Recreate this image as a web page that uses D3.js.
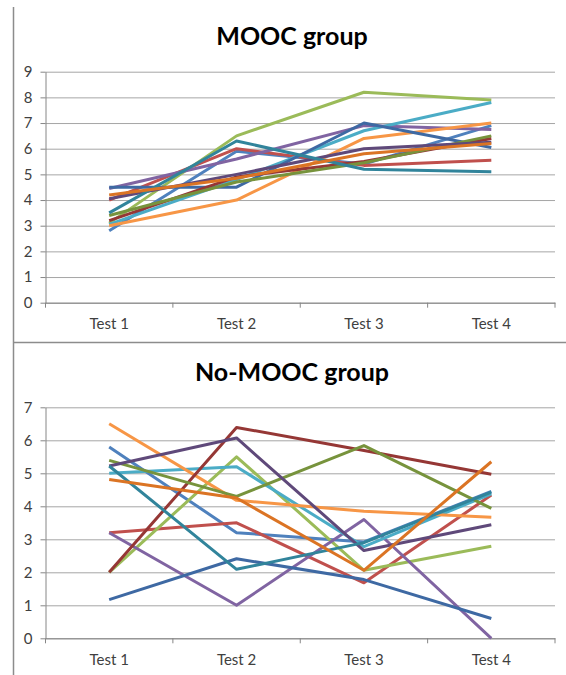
<!DOCTYPE html>
<html>
<head>
<meta charset="utf-8">
<script src="https://cdn.jsdelivr.net/npm/d3@7"></script>
<style>
  html, body { margin: 0; padding: 0; background: #ffffff; }
  svg { display: block; }
</style>
</head>
<body>
<svg id="chart" width="566" height="675"></svg>
<script>
// ---------------- data ----------------
const categories = ["Test 1", "Test 2", "Test 3", "Test 4"];
const moocTicks = [0, 1, 2, 3, 4, 5, 6, 7, 8, 9];
const noMoocTicks = [0, 1, 2, 3, 4, 5, 6, 7];
const moocTitle = "MOOC group";
const noMoocTitle = "No-MOOC group";

// one row per student (series), values for Test 1..4
const moocScores = [
  [2.8, 5.9, 5.4, 6.9],
  [4.0, 6.0, 5.35, 5.55],
  [3.1, 6.5, 8.2, 7.9],
  [4.45, 5.6, 6.9, 6.75],
  [3.05, 4.8, 6.7, 7.8],
  [3.0, 4.0, 6.4, 7.0],
  [4.5, 4.5, 7.0, 6.05],
  [3.2, 4.9, 5.5, 6.4],
  [3.4, 4.7, 5.45, 6.5],
  [4.05, 5.0, 6.0, 6.25],
  [3.5, 6.3, 5.2, 5.1],
  [4.2, 4.85, 5.8, 6.2]
];
const noMoocScores = [
  [5.8, 3.2, 2.92, 4.45],
  [3.2, 3.5, 1.68, 4.34],
  [2.0, 5.5, 2.06, 2.79],
  [3.2, 1.0, 3.6, 0.0],
  [5.0, 5.2, 2.78, 4.38],
  [6.5, 4.18, 3.85, 3.67],
  [1.17, 2.41, 1.78, 0.6],
  [2.0, 6.39, 5.69, 4.97],
  [5.39, 4.3, 5.84, 3.94],
  [5.22, 6.07, 2.66, 3.44],
  [5.22, 2.09, 2.9, 4.43],
  [4.81, 4.25, 2.06, 5.35]
];
const seriesColors = [
  "#4F81BD", "#C0504D", "#9BBB59", "#8064A2", "#4BACC6", "#F79646",
  "#3E69A3", "#953735", "#77933C", "#5F497A", "#31849B", "#DB7424"
];

// ---------------- drawing ----------------
const svg = d3.select("#chart");
const FONT = "Lato, 'Open Sans', 'DejaVu Sans', sans-serif";

// outer frame pieces
svg.append("line").attr("x1", 13.5).attr("x2", 13.5).attr("y1", 7).attr("y2", 675)
  .attr("stroke", "#8c8c8c").attr("stroke-width", 1.5);
svg.append("line").attr("x1", 13).attr("x2", 566).attr("y1", 342.5).attr("y2", 342.5)
  .attr("stroke", "#8c8c8c").attr("stroke-width", 1.5);

function drawChart(cfg) {
  const g = svg.append("g");
  const x = d3.scaleBand().domain(categories).range([45.5, 555]).paddingInner(0).paddingOuter(0);
  const y = d3.scaleLinear().domain([0, d3.max(cfg.ticks)]).range([cfg.y0, cfg.y1]);
  const cx = c => x(c) + x.bandwidth() / 2;

  // title
  g.append("text")
    .attr("x", 292).attr("y", cfg.titleY)
    .attr("text-anchor", "middle")
    .attr("font-family", FONT).attr("font-weight", "bold").attr("font-size", 25)
    .attr("fill", "#000")
    .text(cfg.title);

  // gridlines (via axis)
  const grid = g.append("g").attr("transform", "translate(45.5,0)")
    .call(d3.axisRight(y).tickValues(cfg.ticks).tickSize(555 - 45.5).tickFormat(""));
  grid.select(".domain").remove();
  grid.selectAll(".tick line").attr("stroke", "#a6a6a6").attr("stroke-width", 1);

  // y axis with small outside ticks and labels
  const yAx = g.append("g").attr("transform", "translate(45.5,0)")
    .call(d3.axisLeft(y).tickValues(cfg.ticks).tickSize(5).tickSizeOuter(0).tickPadding(8).tickFormat(d3.format("d")));
  yAx.select(".domain").attr("stroke", "#868686");
  yAx.selectAll(".tick line").attr("stroke", "#868686");
  yAx.selectAll(".tick text")
    .attr("font-family", FONT).attr("font-size", 15).attr("fill", "#404040");

  // x axis line + boundary ticks
  const xAx = g.append("g").attr("transform", `translate(0,${y(0)})`)
    .call(d3.axisBottom(x).tickSize(0).tickPadding(16));
  xAx.select(".domain").attr("stroke", "#868686");
  xAx.selectAll(".tick text")
    .attr("font-family", FONT).attr("font-size", 15).attr("fill", "#404040");
  const bounds = categories.map(c => x(c)).concat([x.range()[1]]);
  xAx.selectAll("line.bound").data(bounds).enter().append("line")
    .attr("class", "bound")
    .attr("x1", d => d).attr("x2", d => d)
    .attr("y1", 0).attr("y2", 5)
    .attr("stroke", "#868686");

  // series lines
  const line = d3.line()
    .x((d, i) => cx(categories[i]))
    .y(d => y(d));
  g.append("g").selectAll("path").data(cfg.data).enter().append("path")
    .attr("d", d => line(d))
    .attr("fill", "none")
    .attr("stroke", (d, i) => seriesColors[i])
    .attr("stroke-width", 3)
    .attr("stroke-linejoin", "round")
    .attr("stroke-linecap", "butt");
}

drawChart({ title: moocTitle, titleY: 45, ticks: moocTicks, y0: 302.7, y1: 71.7, data: moocScores });
drawChart({ title: noMoocTitle, titleY: 381, ticks: noMoocTicks, y0: 638.3, y1: 407.3, data: noMoocScores });
</script>
</body>
</html>
